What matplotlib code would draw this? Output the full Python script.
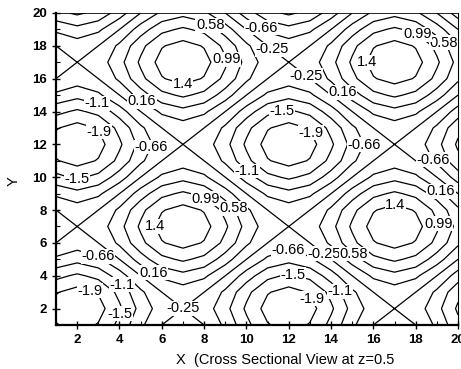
import numpy as np
import matplotlib
matplotlib.use('Agg')
import matplotlib.pyplot as plt
from matplotlib.ticker import MultipleLocator

plt.rcParams['font.family'] = ['Liberation Sans', 'DejaVu Sans']

# grid (sample points along X and Y)
xs = np.arange(1, 21)
ys = np.arange(1, 21)

# profile, one value per grid point (same shape in X and Y)
perfil_x = [-0.81, -1.0, -0.81, -0.31, 0.31, 0.81, 1.0, 0.81, 0.31, -0.31,
            -0.81, -1.0, -0.81, -0.31, 0.31, 0.81, 1.0, 0.81, 0.31, -0.31]
perfil_y = [-0.81, -1.0, -0.81, -0.31, 0.31, 0.81, 1.0, 0.81, 0.31, -0.31,
            -0.81, -1.0, -0.81, -0.31, 0.31, 0.81, 1.0, 0.81, 0.31, -0.31]
desplazamiento = -0.25

# contour levels and their printed text
niveles = [-1.9, -1.4875, -1.075, -0.6625, -0.25, 0.1625, 0.575, 0.9875, 1.4]
etiquetas = ['-1.9', '-1.5', '-1.1', '-0.66', '-0.25', '0.16', '0.58', '0.99', '1.4']

z = np.array(perfil_y)[:, None] + np.array(perfil_x)[None, :] + desplazamiento

# where each label sits (per level)
pos_etiquetas = {
    -1.9: [(2.9, 12.7), (13.05, 12.7), (2.6, 3.0), (13.1, 2.6)],
    -1.4875: [(1.95, 9.7), (11.7, 14.0), (4.0, 1.7), (12.2, 3.95)],
    -1.075: [(2.9, 14.3), (9.8, 10.0), (4.0, 3.3), (14.3, 2.9)],
    -0.6625: [(5.4, 11.9), (10.6, 18.95), (15.5, 12.0), (18.7, 11.0),
              (2.95, 5.05), (12.0, 5.5)],
    -0.25: [(11.05, 17.5), (12.7, 16.0), (7.0, 2.05), (13.5, 5.05)],
    0.1625: [(4.95, 14.4), (14.4, 15.0), (5.5, 4.0), (19.1, 9.0)],
    0.575: [(8.14, 18.95), (19.2, 18.0), (9.3, 8.0), (14.95, 5.1)],
    0.9875: [(8.9, 17.1), (17.95, 18.5), (7.95, 8.5), (19.1, 7.2)],
    1.4: [(6.95, 15.5), (15.5, 17.0), (5.5, 6.9), (17.0, 8.2)],
}

fig = plt.figure(figsize=(4.61, 3.69), dpi=100)
ax = fig.add_axes([0.1215, 0.1192, 0.872, 0.8456])

ax.set_xlim(1, 20)
ax.set_ylim(1, 20)

# one contour set per level so each label lands on its own line
for lev, txt in zip(niveles, etiquetas):
    cs = ax.contour(xs, ys, z, levels=[lev], colors='black', linewidths=0.9,
                    linestyles='solid')
    textos = ax.clabel(cs, fmt={lev: txt}, fontsize=10.5, inline=False,
                       manual=pos_etiquetas[lev])
    for t in textos:
        t.set_rotation(0)
        t.set_bbox(dict(facecolor='white', edgecolor='none', pad=0.3))
        t.set_zorder(5)

ax.xaxis.set_major_locator(MultipleLocator(2))
ax.yaxis.set_major_locator(MultipleLocator(2))
ax.xaxis.set_minor_locator(MultipleLocator(1))
ax.yaxis.set_minor_locator(MultipleLocator(1))
ax.tick_params(which='major', direction='inout', length=6, width=1, labelsize=9.5)
ax.tick_params(which='minor', direction='in', length=3, width=0.8)
for lab in ax.get_xticklabels() + ax.get_yticklabels():
    lab.set_fontweight('bold')

ax.spines['left'].set_linewidth(1.6)
ax.spines['bottom'].set_linewidth(1.6)
ax.spines['top'].set_linewidth(0.6)
ax.spines['right'].set_linewidth(0.8)

ax.set_xlabel('X  (Cross Sectional View at z=0.5', fontsize=10.5, labelpad=5, x=0.57)
ax.set_ylabel('Y', fontsize=10.5, labelpad=8, y=0.46)

fig.savefig('out.png', dpi=100)
